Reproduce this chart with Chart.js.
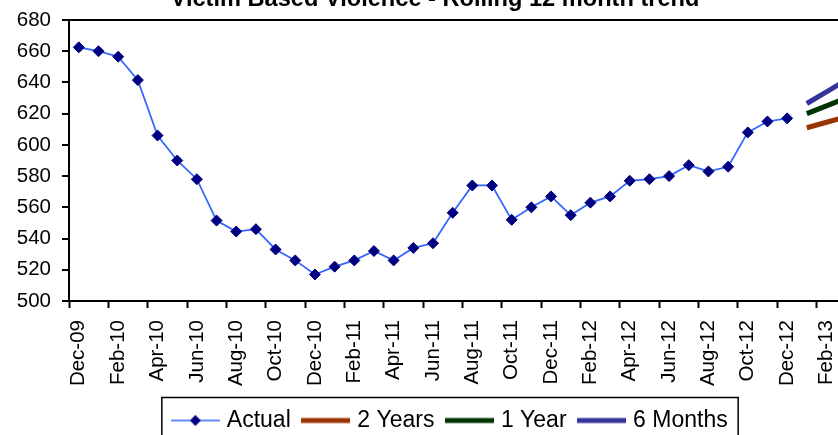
<!DOCTYPE html>
<html>
<head>
<meta charset="utf-8">
<script src="https://cdn.jsdelivr.net/npm/chart.js@4.4.0/dist/chart.umd.min.js"></script>
<style>
  html, body { margin: 0; padding: 0; background: #fff; overflow: hidden; width: 838px; height: 435px; }
  #wrap { position: absolute; left: 0; top: -20px; width: 886px; height: 470px; }
</style>
</head>
<body>
<div id="wrap"><canvas id="graph" width="886" height="470"></canvas></div>
<script>
var chartTitle = "Victim Based Violence - Rolling 12 month trend";

var months = [
  "Dec-09", "Jan-10", "Feb-10", "Mar-10", "Apr-10", "May-10", "Jun-10", "Jul-10",
  "Aug-10", "Sep-10", "Oct-10", "Nov-10", "Dec-10", "Jan-11", "Feb-11", "Mar-11",
  "Apr-11", "May-11", "Jun-11", "Jul-11", "Aug-11", "Sep-11", "Oct-11", "Nov-11",
  "Dec-11", "Jan-12", "Feb-12", "Mar-12", "Apr-12", "May-12", "Jun-12", "Jul-12",
  "Aug-12", "Sep-12", "Oct-12", "Nov-12", "Dec-12", "Jan-13", "Feb-13", "Mar-13"
];

// rolling 12 month totals, Dec-09 .. Dec-12
var actual = [
  662.5, 660, 656.5, 641.5, 606, 590, 578, 551.5, 544.5, 546, 533, 526,
  517, 522, 526, 532, 526, 534, 537, 556.5, 574, 574, 552, 560,
  567, 555, 563, 567, 577, 578, 580, 587, 583, 586, 608, 615, 617
];

// trend projections, Jan-13 .. Mar-13
var twoYears = [611, 614.5, 618];
var oneYear = [620, 625, 630];
var sixMonths = [626.5, 634, 641.5];

var yMin = 500, yMax = 680, yStep = 20;

function projection(values) {
  var out = [];
  for (var i = 0; i < actual.length; i++) out.push(null);
  return out.concat(values);
}

// little pictures for the legend: line sample, with a diamond for Actual
function legendSample(color, width, marker) {
  var c = document.createElement("canvas");
  c.width = 49;
  c.height = 14;
  var g = c.getContext("2d");
  g.strokeStyle = color;
  g.lineWidth = width;
  g.beginPath();
  g.moveTo(0, 7);
  g.lineTo(49, 7);
  g.stroke();
  if (marker) {
    g.fillStyle = marker;
    g.beginPath();
    g.moveTo(24.5, 1.5);
    g.lineTo(30, 7);
    g.lineTo(24.5, 12.5);
    g.lineTo(19, 7);
    g.closePath();
    g.fill();
  }
  return c;
}

var samples = [
  legendSample("#3366ff", 1.5, "#000080"),
  legendSample("#993300", 5),
  legendSample("#003300", 5),
  legendSample("#333399", 5)
];

var topTitle = {
  id: "topTitle",
  afterDraw: function(chart) {
    var ctx = chart.ctx;
    ctx.save();
    ctx.font = "bold 23.6px 'Liberation Sans', Arial, sans-serif";
    ctx.fillStyle = "#000";
    ctx.textAlign = "center";
    ctx.textBaseline = "alphabetic";
    ctx.fillText(chartTitle, 435, 26);
    ctx.restore();
  }
};

var legendFrame = {
  id: "legendFrame",
  afterDraw: function(chart) {
    var boxes = chart.legend.legendHitBoxes;
    if (!boxes || !boxes.length) return;
    var first = boxes[0], last = boxes[boxes.length - 1];
    var ctx = chart.ctx;
    var mid = first.top + first.height / 2;
    ctx.save();
    ctx.strokeStyle = "#000";
    ctx.lineWidth = 1.5;
    ctx.strokeRect(first.left - 13.5, mid - 23, last.left + last.width + 10.5 - (first.left - 13.5), 46);
    ctx.restore();
  }
};

var font = { family: "'Liberation Sans', Arial, sans-serif", size: 20.5 };

var chart = new Chart(document.getElementById("graph").getContext("2d"), {
  type: "line",
  data: {
    labels: months,
    datasets: [
      {
        label: "Actual",
        data: actual,
        borderColor: "#3366ff",
        borderWidth: 1.75,
        pointStyle: "rectRot",
        pointRadius: 5.5,
        pointBorderWidth: 1,
        pointBackgroundColor: "#000080",
        pointBorderColor: "#000080",
        tension: 0
      },
      {
        label: "2 Years",
        data: projection(twoYears),
        borderColor: "#993300",
        borderWidth: 5,
        pointRadius: 0
      },
      {
        label: "1 Year",
        data: projection(oneYear),
        borderColor: "#003300",
        borderWidth: 5,
        pointRadius: 0
      },
      {
        label: "6 Months",
        data: projection(sixMonths),
        borderColor: "#333399",
        borderWidth: 5,
        pointRadius: 0
      }
    ]
  },
  options: {
    responsive: false,
    animation: false,
    devicePixelRatio: 1,
    layout: { padding: { top: 40, left: 17, right: 0, bottom: 8 } },
    scales: {
      x: {
        offset: true,
        grid: {
          display: true,
          offset: true,
          drawOnChartArea: false,
          tickLength: 7,
          tickWidth: 2,
          tickColor: function(c) { return c.index % 2 === 0 ? "#000" : "rgba(0,0,0,0)"; }
        },
        border: { display: true, color: "#000", width: 2 },
        ticks: {
          autoSkip: false,
          minRotation: 90,
          maxRotation: 90,
          padding: 12,
          color: "#000",
          font: font,
          callback: function(v, i) { return i % 2 === 0 ? this.getLabelForValue(v) : ""; }
        },
        afterFit: function(s) { s.height = 93; }
      },
      y: {
        min: yMin,
        max: yMax,
        ticks: { stepSize: yStep, padding: 11, color: "#000", font: font },
        grid: {
          drawOnChartArea: true,
          lineWidth: 2,
          tickLength: 7,
          tickWidth: 2,
          tickColor: "#000",
          color: function(c) { return c.tick && c.tick.value === yMax ? "#000" : "rgba(0,0,0,0)"; }
        },
        border: { display: true, color: "#000", width: 2 },
        afterFit: function(s) { s.width = 52; }
      },
      y2: {
        position: "right",
        grid: { display: false },
        ticks: { display: false },
        border: { display: true, color: "#000", width: 2 },
        afterFit: function(s) { s.width = 30; }
      }
    },
    plugins: {
      title: { display: false },
      tooltip: { enabled: false },
      legend: {
        position: "bottom",
        labels: {
          usePointStyle: true,
          pointStyleWidth: 40,
          padding: 15,
          color: "#000",
          font: { family: "'Liberation Sans', Arial, sans-serif", size: 23 },
          generateLabels: function(chart) {
            return chart.data.datasets.map(function(ds, i) {
              return {
                text: ds.label,
                pointStyle: samples[i],
                datasetIndex: i,
                lineWidth: 0,
                fillStyle: "rgba(0,0,0,0)",
                strokeStyle: "rgba(0,0,0,0)",
                hidden: false
              };
            });
          }
        }
      }
    }
  },
  plugins: [topTitle, legendFrame]
});
</script>
</body>
</html>
